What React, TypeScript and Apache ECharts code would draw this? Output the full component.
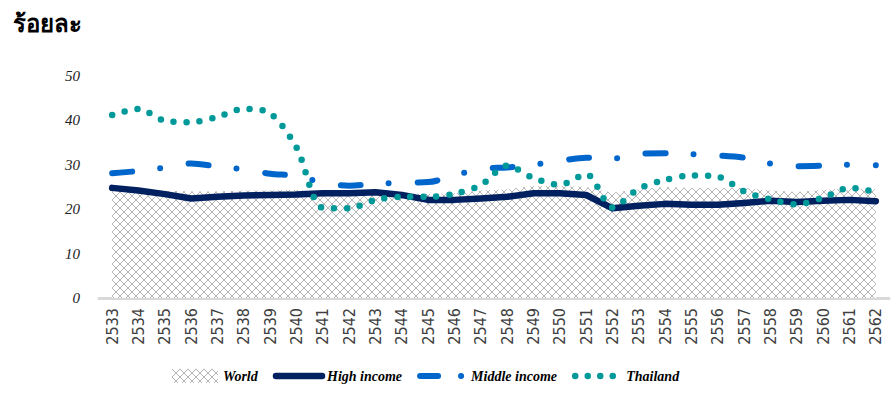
import React, { useEffect, useRef } from "react";
import * as echarts from "echarts";

const years = [
  "2533", "2534", "2535", "2536", "2537", "2538", "2539", "2540", "2541", "2542",
  "2543", "2544", "2545", "2546", "2547", "2548", "2549", "2550", "2551", "2552",
  "2553", "2554", "2555", "2556", "2557", "2558", "2559", "2560", "2561", "2562",
];
const world = [
  25.0, 24.5, 24.2, 24.0, 24.0, 24.2, 24.2, 24.3, 24.0, 24.0,
  24.4, 23.6, 23.4, 23.6, 24.2, 24.5, 25.2, 25.3, 25.0, 23.7,
  24.5, 25.0, 24.8, 24.8, 24.8, 24.2, 23.9, 24.3, 24.7, 24.5,
];
const highIncome = [
  24.8, 24.2, 23.4, 22.4, 22.8, 23.1, 23.2, 23.3, 23.6, 23.6,
  23.8, 23.2, 22.1, 22.1, 22.4, 22.8, 23.6, 23.6, 23.2, 20.2,
  20.8, 21.2, 21.0, 21.0, 21.4, 21.9, 21.6, 21.9, 22.1, 21.8,
];
const middleIncome = [
  28.1, 28.6, 29.4, 30.3, 29.6, 29.0, 28.0, 27.5, 26.0, 25.3,
  25.7, 26.0, 26.1, 27.6, 29.1, 29.4, 30.0, 30.9, 31.6, 31.4,
  32.5, 32.6, 32.4, 32.1, 31.6, 30.3, 29.7, 29.8, 30.0, 29.9,
];
const thailand = [
  41.2, 42.6, 39.9, 39.6, 40.8, 42.6, 41.6, 33.9, 20.3, 20.2,
  22.1, 22.8, 22.8, 23.5, 25.4, 29.8, 27.0, 25.5, 27.9, 20.4,
  24.6, 26.6, 27.6, 27.3, 24.0, 22.2, 21.1, 22.6, 24.8, 23.9,
];
const yTicks = { min: 0, max: 50, interval: 10 };

function makeHatch(): HTMLCanvasElement {
  const c = document.createElement("canvas");
  c.width = 8;
  c.height = 8;
  const ctx = c.getContext("2d")!;
  ctx.fillStyle = "#ffffff";
  ctx.fillRect(0, 0, 8, 8);
  ctx.strokeStyle = "#b4b4b4";
  ctx.lineWidth = 1;
  ctx.beginPath();
  ctx.moveTo(0, 0);
  ctx.lineTo(8, 8);
  ctx.moveTo(8, 0);
  ctx.lineTo(0, 8);
  ctx.stroke();
  return c;
}

export default function App() {
  const ref = useRef<HTMLDivElement>(null);
  useEffect(() => {
    if (!ref.current) return;
    const chart = echarts.init(ref.current, null, { renderer: "svg" });
    const hatch = { image: makeHatch(), repeat: "repeat" } as any;
    const legendFont = {
      fontFamily: "'Liberation Serif', serif",
      fontStyle: "italic",
      fontWeight: "bold",
      fontSize: 14,
      color: "#000",
    };
    const hideSym = { opacity: 0 };
    chart.setOption({
      animation: false,
      backgroundColor: "#ffffff",
      title: {
        text: "ร้อยละ",
        left: 8,
        top: 6,
        textStyle: { fontSize: 24, fontWeight: "bold", color: "#000", fontFamily: "sans-serif" },
      },
      grid: { left: 99, right: 6, top: 76, bottom: 100, containLabel: false },
      legend: {
        left: 167,
        top: 364,
        itemWidth: 46,
        itemHeight: 14,
        itemGap: 15,
        textStyle: legendFont,
        data: [
          { name: "World", icon: "rect", itemStyle: { color: hatch } },
          {
            name: "High income",
            itemStyle: hideSym,
            lineStyle: { width: 6.5, color: "#002060", cap: "round" },
          },
          {
            name: "Middle income",
            itemStyle: hideSym,
            lineStyle: { width: 6, color: "#0066cc", type: [18, 23, 0, 100], cap: "round" },
          },
          {
            name: "Thailand",
            itemStyle: hideSym,
            lineStyle: { width: 6.5, color: "#009999", type: [0, 12.5], cap: "round" },
          },
        ],
      },
      xAxis: {
        type: "category",
        data: years,
        boundaryGap: true,
        axisLine: { lineStyle: { color: "#d9d9d9", width: 3 } },
        axisTick: { show: false },
        axisLabel: {
          rotate: 90,
          interval: 0,
          margin: 10,
          color: "#404040",
          fontSize: 16,
          fontFamily: "'Liberation Sans Narrow', 'DejaVu Sans Condensed', sans-serif",
        },
      },
      yAxis: {
        type: "value",
        min: yTicks.min,
        max: yTicks.max,
        interval: yTicks.interval,
        axisLine: { show: false },
        axisTick: { show: false },
        splitLine: { show: false },
        axisLabel: {
          margin: 19,
          color: "#222",
          fontSize: 15,
          fontStyle: "italic",
          fontFamily: "'Liberation Serif', serif",
        },
      },
      series: [
        {
          name: "World",
          type: "line",
          data: world,
          symbol: "none",
          lineStyle: { width: 0, color: "#b4b4b4" },
          itemStyle: { color: "#b4b4b4" },
          areaStyle: { color: hatch, opacity: 1 },
          z: 1,
        },
        {
          name: "High income",
          type: "line",
          data: highIncome,
          symbol: "none",
          itemStyle: { color: "#002060" },
          lineStyle: { width: 6.5, color: "#002060", cap: "round", join: "round" },
          z: 2,
        },
        {
          name: "Middle income",
          type: "line",
          data: middleIncome,
          symbol: "none",
          smooth: 0.3,
          itemStyle: { color: "#0066cc" },
          lineStyle: { width: 6, color: "#0066cc", type: [20, 28, 0, 29], cap: "round" },
          z: 3,
        },
        {
          name: "Thailand",
          type: "line",
          data: thailand,
          symbol: "none",
          smooth: 0.3,
          itemStyle: { color: "#009999" },
          lineStyle: { width: 6.5, color: "#009999", type: [0, 13], cap: "round" },
          z: 4,
        },
      ],
    });
    return () => chart.dispose();
  }, []);
  return (
    <div
      ref={ref}
      style={{ position: "fixed", left: 0, top: 0, width: 895, height: 398 }}
    />
  );
}
